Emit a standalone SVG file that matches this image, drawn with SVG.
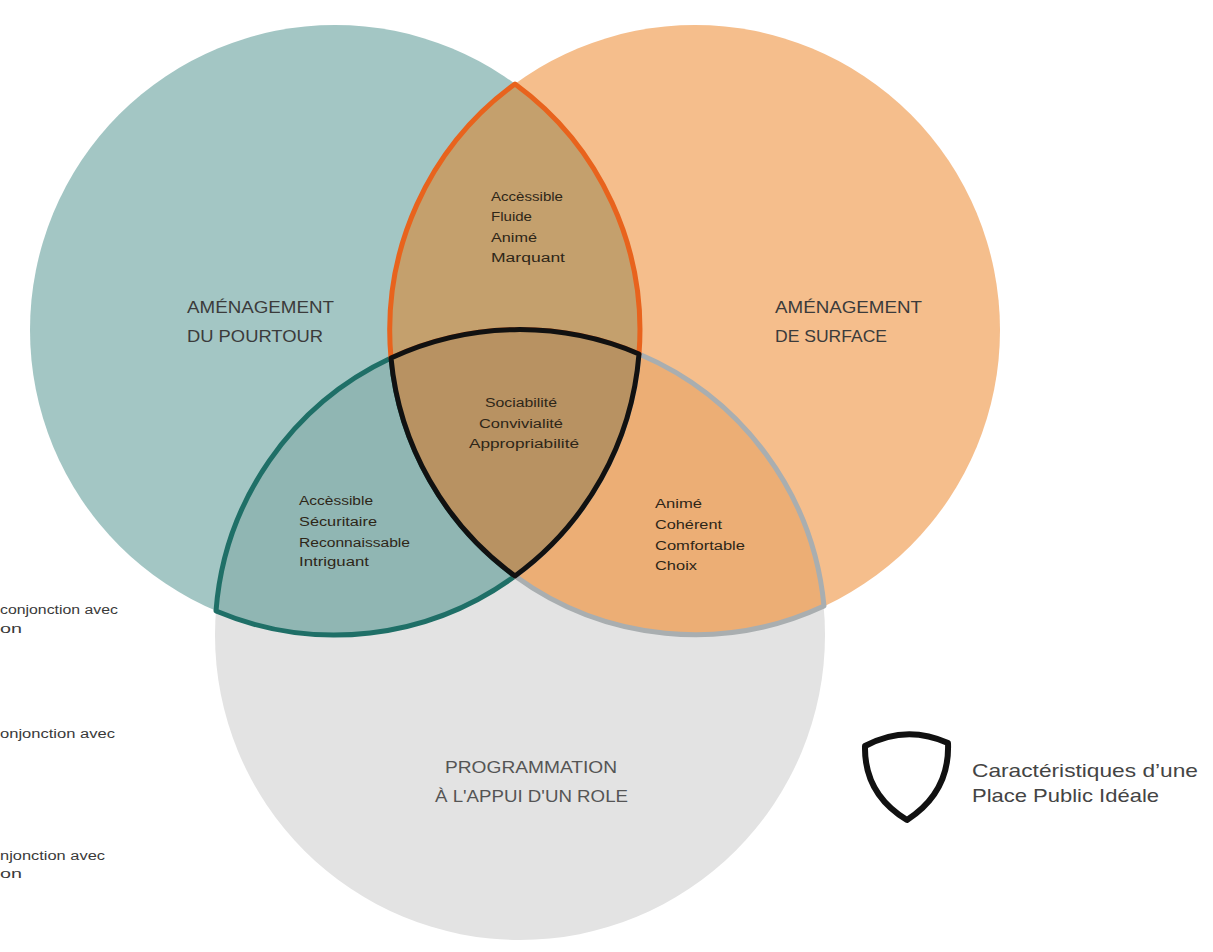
<svg xmlns="http://www.w3.org/2000/svg" width="1213" height="952" viewBox="0 0 1213 952">
<style>
  .lbl{font-family:"Liberation Sans","DejaVu Sans",sans-serif;font-size:17px;fill:#3b3b3b;}
  .lblg{font-family:"Liberation Sans","DejaVu Sans",sans-serif;font-size:17px;fill:#555555;}
  .sm{font-family:"Liberation Sans","DejaVu Sans",sans-serif;font-size:12px;fill:#2e2618;}
  .side{font-family:"Liberation Sans","DejaVu Sans",sans-serif;font-size:12px;fill:#3a3a3a;}
  .leg{font-family:"Liberation Sans","DejaVu Sans",sans-serif;font-size:19px;fill:#444444;}
  .lens{stroke-width:5;stroke-linejoin:round;}
</style>
<rect width="1213" height="952" fill="#ffffff"/>
<g id="side-notes">
  <text class="side" x="0" y="614" textLength="118" lengthAdjust="spacingAndGlyphs">conjonction avec</text>
  <text class="side" x="0" y="633" textLength="22" lengthAdjust="spacingAndGlyphs">on</text>
  <text class="side" x="0" y="738" textLength="115" lengthAdjust="spacingAndGlyphs">onjonction avec</text>
  <text class="side" x="0" y="860" textLength="105" lengthAdjust="spacingAndGlyphs">njonction avec</text>
  <text class="side" x="0" y="878" textLength="22" lengthAdjust="spacingAndGlyphs">on</text>
</g>
<g id="circle-pourtour">
  <circle cx="335" cy="330" r="305" fill="#a3c6c4"/>
</g>
<g id="circle-surface">
  <circle cx="695" cy="330" r="305" fill="#f5be8c"/>
</g>
<g id="circle-programmation">
  <circle cx="520" cy="635" r="305" fill="#e3e3e3"/>
</g>
<g id="lens-left">
  <path class="lens" d="M216 611 A305 305 0 0 1 391 358 A305 305 0 0 0 515 576 A305 305 0 0 1 216 611 Z" fill="#90b6b3" stroke="#1f6f67"/>
</g>
<g id="lens-right">
  <path class="lens" d="M515 576 A305 305 0 0 0 639 354 A305 305 0 0 1 824 606 A305 305 0 0 1 515 576 Z" fill="#ecae75" stroke="#a9aeb0"/>
</g>
<g id="lens-top">
  <path class="lens" d="M515 84 A305 305 0 0 0 391 358 A305 305 0 0 1 639 354 A305 305 0 0 0 515 84 Z" fill="#c4a06d" stroke="#e8631d"/>
</g>
<g id="lens-center">
  <path class="lens" d="M391 358 A305 305 0 0 1 639 354 A305 305 0 0 1 515 576 A305 305 0 0 1 391 358 Z" fill="#b89262" stroke="#111111"/>
</g>
<g id="labels-circles">
  <text class="lbl" x="187" y="313" textLength="147" lengthAdjust="spacingAndGlyphs">AMÉNAGEMENT</text>
  <text class="lbl" x="187" y="342" textLength="136" lengthAdjust="spacingAndGlyphs">DU POURTOUR</text>
  <text class="lbl" x="775" y="313" textLength="147" lengthAdjust="spacingAndGlyphs">AMÉNAGEMENT</text>
  <text class="lbl" x="775" y="342" textLength="112" lengthAdjust="spacingAndGlyphs">DE SURFACE</text>
  <text class="lblg" x="445" y="773" textLength="172" lengthAdjust="spacingAndGlyphs">PROGRAMMATION</text>
  <text class="lblg" x="435" y="802" textLength="193" lengthAdjust="spacingAndGlyphs">À L'APPUI D'UN ROLE</text>
</g>
<g id="labels-top">
  <text class="sm" x="491" y="201" textLength="72" lengthAdjust="spacingAndGlyphs">Accèssible</text>
  <text class="sm" x="491" y="221" textLength="41" lengthAdjust="spacingAndGlyphs">Fluide</text>
  <text class="sm" x="491" y="242" textLength="46" lengthAdjust="spacingAndGlyphs">Animé</text>
  <text class="sm" x="491" y="262" textLength="74" lengthAdjust="spacingAndGlyphs">Marquant</text>
</g>
<g id="labels-center">
  <text class="sm" x="485" y="407" textLength="72" lengthAdjust="spacingAndGlyphs">Sociabilité</text>
  <text class="sm" x="479" y="428" textLength="84" lengthAdjust="spacingAndGlyphs">Convivialité</text>
  <text class="sm" x="469" y="448" textLength="110" lengthAdjust="spacingAndGlyphs">Appropriabilité</text>
</g>
<g id="labels-left">
  <text class="sm" x="299" y="505" textLength="74" lengthAdjust="spacingAndGlyphs">Accèssible</text>
  <text class="sm" x="299" y="526" textLength="78" lengthAdjust="spacingAndGlyphs">Sécuritaire</text>
  <text class="sm" x="299" y="547" textLength="111" lengthAdjust="spacingAndGlyphs">Reconnaissable</text>
  <text class="sm" x="299" y="566" textLength="70" lengthAdjust="spacingAndGlyphs">Intriguant</text>
</g>
<g id="labels-right">
  <text class="sm" x="655" y="508" textLength="47" lengthAdjust="spacingAndGlyphs">Animé</text>
  <text class="sm" x="655" y="529" textLength="67" lengthAdjust="spacingAndGlyphs">Cohérent</text>
  <text class="sm" x="655" y="550" textLength="90" lengthAdjust="spacingAndGlyphs">Comfortable</text>
  <text class="sm" x="655" y="570" textLength="42" lengthAdjust="spacingAndGlyphs">Choix</text>
</g>
<g id="legend">
  <path d="M865 746 Q906 724 948 743 Q950 792 907 820 Q864 794 865 746 Z" fill="none" stroke="#111111" stroke-width="6" stroke-linejoin="round"/>
  <text class="leg" x="972" y="777" textLength="226" lengthAdjust="spacingAndGlyphs">Caractéristiques d’une</text>
  <text class="leg" x="972" y="802" textLength="187" lengthAdjust="spacingAndGlyphs">Place Public Idéale</text>
</g>
</svg>
